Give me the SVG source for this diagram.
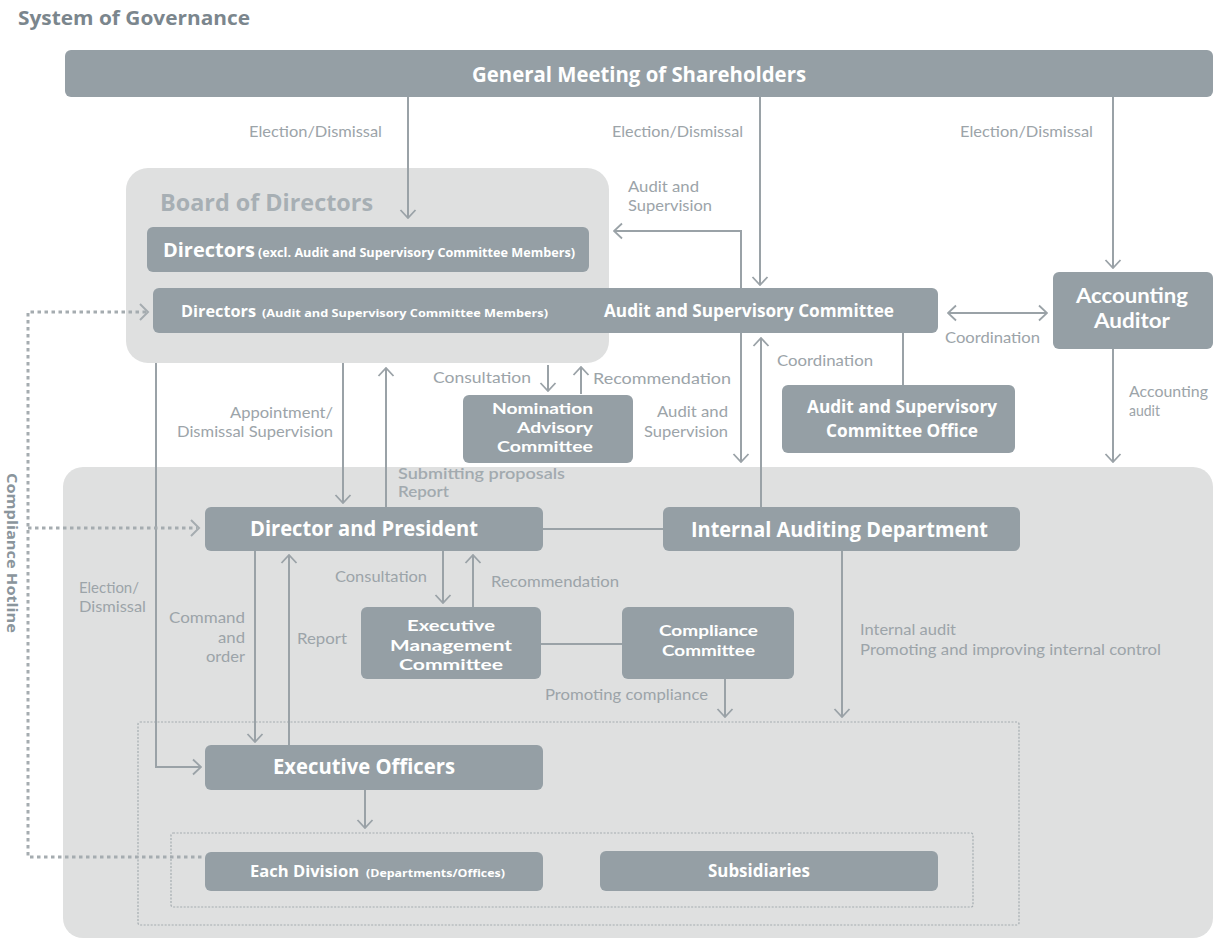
<svg xmlns="http://www.w3.org/2000/svg" width="1213" height="939" viewBox="0 0 1213 939">
<defs>
<style>
.node{fill:#959fa5}
.panel{fill:#dfe0e0}
.nt{fill:#fff;font-family:"Open Sans",Lato,sans-serif;font-weight:bold}
.nm{fill:#fff;font-family:Lato,"Open Sans",sans-serif;font-weight:bold;font-size:15.5px}
.lbl{fill:#9ca4a9;font-family:Lato,"Open Sans",sans-serif;font-size:15px}
.sub{fill:#a2aaaf;font-family:Lato,"Open Sans",sans-serif;font-size:14.5px;font-weight:600}
.ln{fill:none;stroke:#9aa2a7;stroke-width:2}
.dot{fill:none;stroke:#a5acb0;stroke-width:3;stroke-dasharray:3.5,3.5}
.thin{fill:none;stroke:#a5acb0;stroke-width:1.2;stroke-dasharray:2,1.5}
</style>
<marker id="arr" viewBox="0 0 10 18" refX="9" refY="9" markerWidth="10" markerHeight="18" markerUnits="userSpaceOnUse" orient="auto-start-reverse">
<path d="M1,1.5 L9,9 L1,16.5" fill="none" stroke="#9aa2a7" stroke-width="1.8"/>
</marker>
</defs>
<rect width="1213" height="939" fill="#fff"/>
<text x="18" y="25" fill="#7b868d" font-family="'Open Sans',Lato,sans-serif" font-weight="bold" font-size="20" textLength="232" lengthAdjust="spacingAndGlyphs">System of Governance</text>

<g id="panels">
<rect class="panel" x="126" y="168" width="483" height="195" rx="22"/>
<rect class="panel" x="63" y="467" width="1150" height="471" rx="20"/>
<text x="160" y="211" fill="#a7afb4" font-family="'Open Sans',Lato,sans-serif" font-weight="bold" font-size="24" textLength="213" lengthAdjust="spacingAndGlyphs">Board of Directors</text>
<rect class="thin" x="138" y="722" width="881" height="203" rx="2"/>
<rect class="thin" x="171" y="833" width="802" height="74" rx="2"/>
</g>

<g id="connectors">
<line class="ln" x1="408" y1="97" x2="408" y2="218" marker-end="url(#arr)"/>
<line class="ln" x1="760" y1="97" x2="760" y2="285" marker-end="url(#arr)"/>
<line class="ln" x1="1113" y1="97" x2="1113" y2="268" marker-end="url(#arr)"/>
<polyline class="ln" points="741,288 741,231 614,231" marker-end="url(#arr)"/>
<line class="ln" x1="948" y1="313" x2="1047" y2="313" marker-start="url(#arr)" marker-end="url(#arr)"/>
<line class="ln" x1="903" y1="333" x2="903" y2="385"/>
<line class="ln" x1="761" y1="507" x2="761" y2="338" marker-end="url(#arr)"/>
<line class="ln" x1="741" y1="333" x2="741" y2="462" marker-end="url(#arr)"/>
<line class="ln" x1="1113" y1="349" x2="1113" y2="462" marker-end="url(#arr)"/>
<line class="ln" x1="343" y1="363" x2="343" y2="503" marker-end="url(#arr)"/>
<line class="ln" x1="386" y1="507" x2="386" y2="368" marker-end="url(#arr)"/>
<polyline class="ln" points="156,363 156,767 201,767" marker-end="url(#arr)"/>
<line class="ln" x1="548" y1="365" x2="548" y2="391" marker-end="url(#arr)"/>
<line class="ln" x1="581" y1="394" x2="581" y2="367" marker-end="url(#arr)"/>
<line class="ln" x1="543" y1="529" x2="663" y2="529"/>
<line class="ln" x1="443" y1="551" x2="443" y2="603" marker-end="url(#arr)"/>
<line class="ln" x1="473" y1="607" x2="473" y2="555" marker-end="url(#arr)"/>
<line class="ln" x1="541" y1="644" x2="622" y2="644"/>
<line class="ln" x1="255" y1="551" x2="255" y2="742" marker-end="url(#arr)"/>
<line class="ln" x1="289" y1="745" x2="289" y2="555" marker-end="url(#arr)"/>
<line class="ln" x1="725" y1="679" x2="725" y2="717" marker-end="url(#arr)"/>
<line class="ln" x1="842" y1="551" x2="842" y2="717" marker-end="url(#arr)"/>
<line class="ln" x1="365" y1="790" x2="365" y2="828" marker-end="url(#arr)"/>
<polyline class="dot" points="146,312 28,312 28,857 204,857"/>
<line class="dot" x1="28" y1="528" x2="197" y2="528"/>
<path d="M140,304 L148,312 L140,320" fill="none" stroke="#a5acb0" stroke-width="2"/>
<path d="M191,520 L199,528 L191,536" fill="none" stroke="#a5acb0" stroke-width="2"/>
</g>

<g id="labels">
<text class="lbl" x="249" y="137" textLength="133" lengthAdjust="spacingAndGlyphs">Election/Dismissal</text>
<text class="lbl" x="612" y="137" textLength="131" lengthAdjust="spacingAndGlyphs">Election/Dismissal</text>
<text class="lbl" x="960" y="137" textLength="133" lengthAdjust="spacingAndGlyphs">Election/Dismissal</text>
<text class="lbl"><tspan x="628" y="192" textLength="71" lengthAdjust="spacingAndGlyphs">Audit and</tspan><tspan x="628" y="211" textLength="84" lengthAdjust="spacingAndGlyphs">Supervision</tspan></text>
<text class="lbl" x="945" y="343" textLength="95" lengthAdjust="spacingAndGlyphs">Coordination</text>
<text class="lbl" x="777" y="366" textLength="96" lengthAdjust="spacingAndGlyphs">Coordination</text>
<text class="lbl"><tspan x="1129" y="397" textLength="79" lengthAdjust="spacingAndGlyphs">Accounting</tspan><tspan x="1129" y="416" textLength="31" lengthAdjust="spacingAndGlyphs">audit</tspan></text>
<text class="lbl"><tspan x="657" y="417" textLength="71" lengthAdjust="spacingAndGlyphs">Audit and</tspan><tspan x="644" y="437" textLength="84" lengthAdjust="spacingAndGlyphs">Supervision</tspan></text>
<text class="lbl" x="433" y="383" textLength="98" lengthAdjust="spacingAndGlyphs">Consultation</text>
<text class="lbl" x="593" y="384" textLength="138" lengthAdjust="spacingAndGlyphs">Recommendation</text>
<text class="sub"><tspan x="398" y="479" textLength="167" lengthAdjust="spacingAndGlyphs">Submitting proposals</tspan><tspan x="398" y="497" textLength="51" lengthAdjust="spacingAndGlyphs">Report</tspan></text>
<text class="lbl"><tspan x="230" y="418" textLength="103" lengthAdjust="spacingAndGlyphs">Appointment/</tspan><tspan x="177" y="437" textLength="156" lengthAdjust="spacingAndGlyphs">Dismissal Supervision</tspan></text>
<text class="lbl"><tspan x="79" y="593" textLength="60" lengthAdjust="spacingAndGlyphs">Election/</tspan><tspan x="79" y="612" textLength="67" lengthAdjust="spacingAndGlyphs">Dismissal</tspan></text>
<text class="lbl" x="335" y="582" textLength="92" lengthAdjust="spacingAndGlyphs">Consultation</text>
<text class="lbl" x="491" y="587" textLength="128" lengthAdjust="spacingAndGlyphs">Recommendation</text>
<text class="lbl"><tspan x="169" y="623" textLength="76" lengthAdjust="spacingAndGlyphs">Command</tspan><tspan x="218" y="643" textLength="27" lengthAdjust="spacingAndGlyphs">and</tspan><tspan x="206" y="662" textLength="39" lengthAdjust="spacingAndGlyphs">order</tspan></text>
<text class="lbl" x="297" y="644" textLength="50" lengthAdjust="spacingAndGlyphs">Report</text>
<text class="lbl" x="545" y="700" textLength="163" lengthAdjust="spacingAndGlyphs">Promoting compliance</text>
<text class="lbl"><tspan x="860" y="635" textLength="96" lengthAdjust="spacingAndGlyphs">Internal audit</tspan><tspan x="860" y="655" textLength="301" lengthAdjust="spacingAndGlyphs">Promoting and improving internal control</tspan></text>
<text x="0" y="0" transform="translate(7,553) rotate(90)" fill="#8a959c" font-family="'Open Sans',Lato,sans-serif" font-weight="bold" font-size="15" text-anchor="middle" textLength="160" lengthAdjust="spacingAndGlyphs">Compliance Hotline</text>
</g>

<g id="gms"><rect class="node" x="65" y="50" width="1148" height="47" rx="6"/><text class="nt" x="472" y="82" font-size="21" textLength="334" lengthAdjust="spacingAndGlyphs">General Meeting of Shareholders</text></g>
<g id="dir-excl"><rect class="node" x="147" y="227" width="442" height="45" rx="6"/><text class="nt" x="163" y="257" font-size="20" textLength="92" lengthAdjust="spacingAndGlyphs">Directors</text><text class="nt" x="258" y="257" font-size="12" textLength="317" lengthAdjust="spacingAndGlyphs">(excl. Audit and Supervisory Committee Members)</text></g>
<g id="asc"><rect class="node" x="153" y="288" width="785" height="45" rx="6"/><text class="nt" x="181" y="317" font-size="16.5" textLength="75" lengthAdjust="spacingAndGlyphs">Directors</text><text class="nt" x="262" y="317" font-size="11" textLength="286" lengthAdjust="spacingAndGlyphs">(Audit and Supervisory Committee Members)</text><text class="nt" x="604" y="317" font-size="18" textLength="290" lengthAdjust="spacingAndGlyphs">Audit and Supervisory Committee</text></g>
<g id="acc-auditor"><rect class="node" x="1053" y="272" width="160" height="77" rx="6"/><text class="nm" font-size="20" style="font-size:20px"><tspan x="1076" y="303" textLength="112" lengthAdjust="spacingAndGlyphs">Accounting</tspan><tspan x="1094" y="328" textLength="76" lengthAdjust="spacingAndGlyphs">Auditor</tspan></text></g>
<g id="asc-office"><rect class="node" x="782" y="385" width="233" height="68" rx="6"/><text class="nt" font-size="17.5"><tspan x="807" y="413" textLength="190" lengthAdjust="spacingAndGlyphs">Audit and Supervisory</tspan><tspan x="826" y="437" textLength="152" lengthAdjust="spacingAndGlyphs">Committee Office</tspan></text></g>
<g id="nomination"><rect class="node" x="463" y="395" width="170" height="68" rx="6"/><text class="nm"><tspan x="492" y="414" textLength="101" lengthAdjust="spacingAndGlyphs">Nomination</tspan><tspan x="517" y="433" textLength="76" lengthAdjust="spacingAndGlyphs">Advisory</tspan><tspan x="497" y="452" textLength="96" lengthAdjust="spacingAndGlyphs">Committee</tspan></text></g>
<g id="president"><rect class="node" x="205" y="507" width="338" height="44" rx="6"/><text class="nt" x="250" y="536" font-size="21" textLength="228" lengthAdjust="spacingAndGlyphs">Director and President</text></g>
<g id="internal-audit"><rect class="node" x="663" y="507" width="357" height="44" rx="6"/><text class="nt" x="691" y="537" font-size="21" textLength="297" lengthAdjust="spacingAndGlyphs">Internal Auditing Department</text></g>
<g id="exec-mgmt"><rect class="node" x="361" y="607" width="180" height="72" rx="6"/><text class="nm"><tspan x="407" y="631" textLength="88" lengthAdjust="spacingAndGlyphs">Executive</tspan><tspan x="390" y="651" textLength="122" lengthAdjust="spacingAndGlyphs">Management</tspan><tspan x="399" y="670" textLength="104" lengthAdjust="spacingAndGlyphs">Committee</tspan></text></g>
<g id="compliance"><rect class="node" x="622" y="607" width="172" height="72" rx="6"/><text class="nm"><tspan x="659" y="636" textLength="99" lengthAdjust="spacingAndGlyphs">Compliance</tspan><tspan x="662" y="656" textLength="93" lengthAdjust="spacingAndGlyphs">Committee</tspan></text></g>
<g id="exec-officers"><rect class="node" x="205" y="745" width="338" height="45" rx="6"/><text class="nt" x="273" y="774" font-size="21" textLength="182" lengthAdjust="spacingAndGlyphs">Executive Officers</text></g>
<g id="division"><rect class="node" x="205" y="852" width="338" height="39" rx="6"/><text class="nt" x="250" y="877" font-size="16.5" textLength="109" lengthAdjust="spacingAndGlyphs">Each Division</text><text class="nt" x="366" y="877" font-size="11" textLength="139" lengthAdjust="spacingAndGlyphs">(Departments/Offices)</text></g>
<g id="subsidiaries"><rect class="node" x="600" y="851" width="338" height="40" rx="6"/><text class="nt" x="708" y="877" font-size="17" textLength="102" lengthAdjust="spacingAndGlyphs">Subsidiaries</text></g>
</svg>
